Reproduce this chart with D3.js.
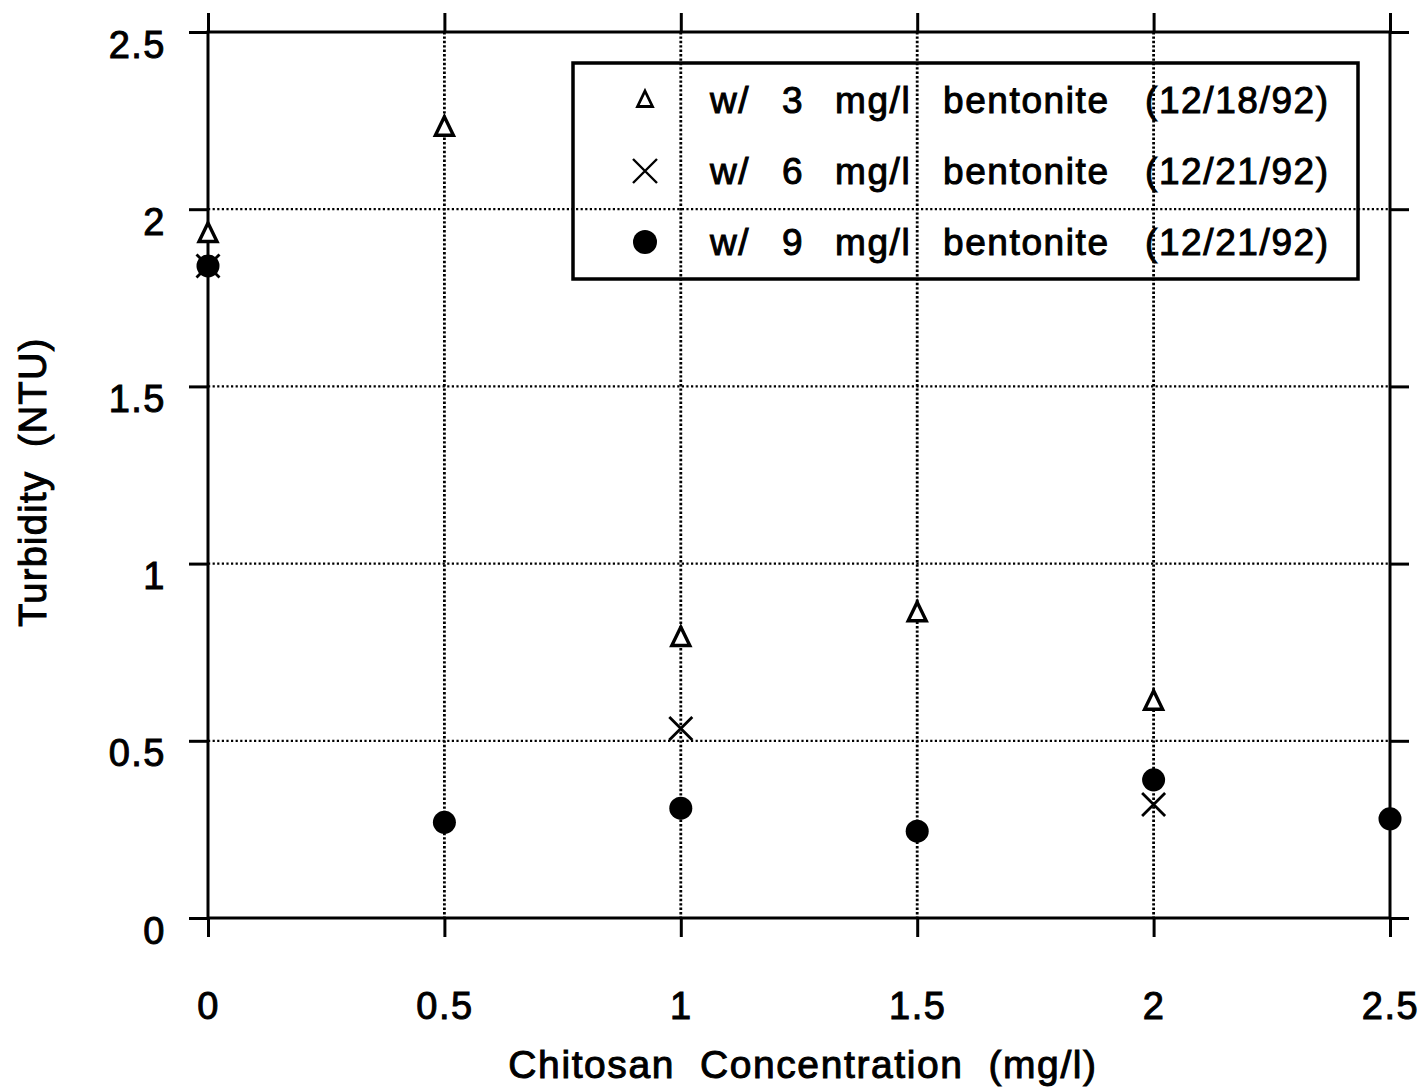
<!DOCTYPE html>
<html>
<head>
<meta charset="utf-8">
<script src="https://cdn.jsdelivr.net/npm/d3@7"></script>
<style>
  html, body { margin: 0; padding: 0; background: #fff; }
  svg { display: block; }
  text { font-family: "Liberation Sans", Arial, Helvetica, sans-serif; fill: #000; stroke: #000; stroke-width: 1px; }
</style>
</head>
<body>
<svg id="chart" width="1422" height="1089"></svg>
<script>
// Chitosan dose (mg/l) on the x axis, turbidity (NTU) on the y axis
const xTicks = [0, 0.5, 1, 1.5, 2, 2.5];
const yTicks = [0, 0.5, 1, 1.5, 2, 2.5];
const xTickLabels = ["0", "0.5", "1", "1.5", "2", "2.5"];
const yTickLabels = ["0", "0.5", "1", "1.5", "2", "2.5"];

// 3 mg/l bentonite (12/18/92)
const bent3X = [0, 0.5, 1, 1.5, 2];
const bent3Y = [1.93, 2.23, 0.79, 0.86, 0.61];
// 6 mg/l bentonite (12/21/92)
const bent6X = [0, 1, 2];
const bent6Y = [1.84, 0.535, 0.32];
// 9 mg/l bentonite (12/21/92)
const bent9X = [0, 0.5, 1, 1.5, 2, 2.5];
const bent9Y = [1.84, 0.27, 0.31, 0.245, 0.39, 0.28];

const legendWords = [
  ["w/", "3", "mg/l", "bentonite", "(12/18/92)"],
  ["w/", "6", "mg/l", "bentonite", "(12/21/92)"],
  ["w/", "9", "mg/l", "bentonite", "(12/21/92)"]
];
const legendMarkers = ["triangle", "cross", "dot"];

const xTitle = "Chitosan\u00a0\u00a0Concentration\u00a0\u00a0(mg/l)";
const yTitle = "Turbidity\u00a0\u00a0(NTU)";

// ---------------------------------------------------------------------------
const svg = d3.select("#chart");
const plotL = 208, plotR = 1390, plotT = 32, plotB = 918;
const x = d3.scaleLinear().domain([0, 2.5]).range([plotL, plotR]);
const y = d3.scaleLinear().domain([0, 2.5]).range([plotB, plotT]);
const tickLen = 19;

// marker shapes
const markerPath = {
  triangle: "M0,-11L9,7.5L-9,7.5Z",
  cross: "M-11.5,-11.5L11.5,11.5M-11.5,11.5L11.5,-11.5",
  legendTriangle: "M0,-9L7.5,6.5L-7.5,6.5Z",
  legendCross: "M-12,-12L12,12M-12,12L12,-12"
};

// dotted grid lines at the inner ticks
const innerX = xTicks.filter(v => v > 0 && v < 2.5);
const innerY = yTicks.filter(v => v > 0 && v < 2.5);
const grid = svg.append("g").attr("class", "grid");
grid.selectAll("line.gx").data(innerX).join("line")
  .attr("class", "gx")
  .attr("x1", d => x(d)).attr("x2", d => x(d))
  .attr("y1", y(2.5)).attr("y2", y(0))
  .attr("stroke", "#000").attr("stroke-width", 2.8)
  .attr("stroke-dasharray", "2.4,2");
grid.selectAll("line.gy").data(innerY).join("line")
  .attr("class", "gy")
  .attr("x1", x(0)).attr("x2", x(2.5))
  .attr("y1", d => y(d)).attr("y2", d => y(d))
  .attr("stroke", "#000").attr("stroke-width", 2.3)
  .attr("stroke-dasharray", "2.2,2.4");

// frame
svg.append("rect")
  .attr("x", plotL).attr("y", plotT)
  .attr("width", plotR - plotL).attr("height", plotB - plotT)
  .attr("fill", "none").attr("stroke", "#000").attr("stroke-width", 3);

// outward ticks on all four sides
function styleAxis(g) {
  g.select(".domain").remove();
  g.selectAll(".tick line").attr("stroke", "#000").attr("stroke-width", 3);
}
const fmtX = (d) => xTickLabels[xTicks.indexOf(d)];
const fmtY = (d) => yTickLabels[yTicks.indexOf(d)];

const axB = svg.append("g").attr("transform", `translate(0,${plotB})`)
  .call(d3.axisBottom(x).tickValues(xTicks).tickSize(tickLen).tickPadding(55).tickFormat(fmtX));
styleAxis(axB);
axB.selectAll(".tick text")
  .attr("font-size", 38).attr("dy", "0.71em")
  .style("font-family", "Liberation Sans, Arial, sans-serif")
  .attr("letter-spacing", 1.5);

const axT = svg.append("g").attr("transform", `translate(0,${plotT})`)
  .call(d3.axisTop(x).tickValues(xTicks).tickSize(tickLen).tickFormat(""));
styleAxis(axT);

const axL = svg.append("g").attr("transform", `translate(${plotL},0)`)
  .call(d3.axisLeft(y).tickValues(yTicks).tickSize(tickLen).tickPadding(23).tickFormat(fmtY));
styleAxis(axL);
axL.selectAll(".tick text")
  .attr("font-size", 38).attr("dy", 25)
  .style("font-family", "Liberation Sans, Arial, sans-serif")
  .attr("letter-spacing", 1.5);

const axR = svg.append("g").attr("transform", `translate(${plotR},0)`)
  .call(d3.axisRight(y).tickValues(yTicks).tickSize(tickLen).tickFormat(""));
styleAxis(axR);

// axis titles
svg.append("text")
  .attr("x", 803).attr("y", 1078)
  .attr("text-anchor", "middle")
  .attr("font-size", 39).attr("letter-spacing", 1.6)
  .text(xTitle);
svg.append("text")
  .attr("transform", "translate(46,482) rotate(-90)")
  .attr("text-anchor", "middle")
  .attr("font-size", 38).attr("letter-spacing", 1.3)
  .text(yTitle);

// data marks
const pts3 = bent3X.map((v, i) => ({ x: v, y: bent3Y[i] }));
const pts6 = bent6X.map((v, i) => ({ x: v, y: bent6Y[i] }));
const pts9 = bent9X.map((v, i) => ({ x: v, y: bent9Y[i] }));

const marks = svg.append("g").attr("class", "marks");
marks.selectAll("circle.s9").data(pts9).join("circle")
  .attr("class", "s9")
  .attr("cx", d => x(d.x)).attr("cy", d => y(d.y))
  .attr("r", 11.5).attr("fill", "#000");
marks.selectAll("path.s6").data(pts6).join("path")
  .attr("class", "s6")
  .attr("transform", d => `translate(${x(d.x)},${y(d.y)})`)
  .attr("d", markerPath.cross)
  .attr("fill", "none").attr("stroke", "#000").attr("stroke-width", 2.8);
marks.selectAll("path.s3").data(pts3).join("path")
  .attr("class", "s3")
  .attr("transform", d => `translate(${x(d.x)},${y(d.y)})`)
  .attr("d", markerPath.triangle)
  .attr("fill", "#fff").attr("stroke", "#000").attr("stroke-width", 3.4);

// legend (transparent box, grid shows through)
const legend = svg.append("g").attr("class", "legend");
legend.append("rect")
  .attr("x", 573).attr("y", 63).attr("width", 785).attr("height", 216)
  .attr("fill", "none").attr("stroke", "#000").attr("stroke-width", 3.5);

const rowY = [100, 171, 242];
const wordX = [710, 782, 835, 943, 1145];
legendWords.forEach((words, i) => {
  const row = legend.append("g").attr("transform", `translate(0,${rowY[i]})`);
  const kind = legendMarkers[i];
  if (kind === "triangle") {
    row.append("path").attr("transform", "translate(645,0)")
      .attr("d", markerPath.legendTriangle)
      .attr("fill", "none").attr("stroke", "#000").attr("stroke-width", 2.8);
  } else if (kind === "cross") {
    row.append("path").attr("transform", "translate(645,0)")
      .attr("d", markerPath.legendCross)
      .attr("fill", "none").attr("stroke", "#000").attr("stroke-width", 2.4);
  } else {
    row.append("circle").attr("cx", 645).attr("cy", 0).attr("r", 12).attr("fill", "#000");
  }
  row.selectAll("text").data(words).join("text")
    .attr("x", (d, j) => wordX[j]).attr("y", 13)
    .attr("font-size", 37).attr("letter-spacing", 1.6)
    .text(d => d);
});
</script>
</body>
</html>
